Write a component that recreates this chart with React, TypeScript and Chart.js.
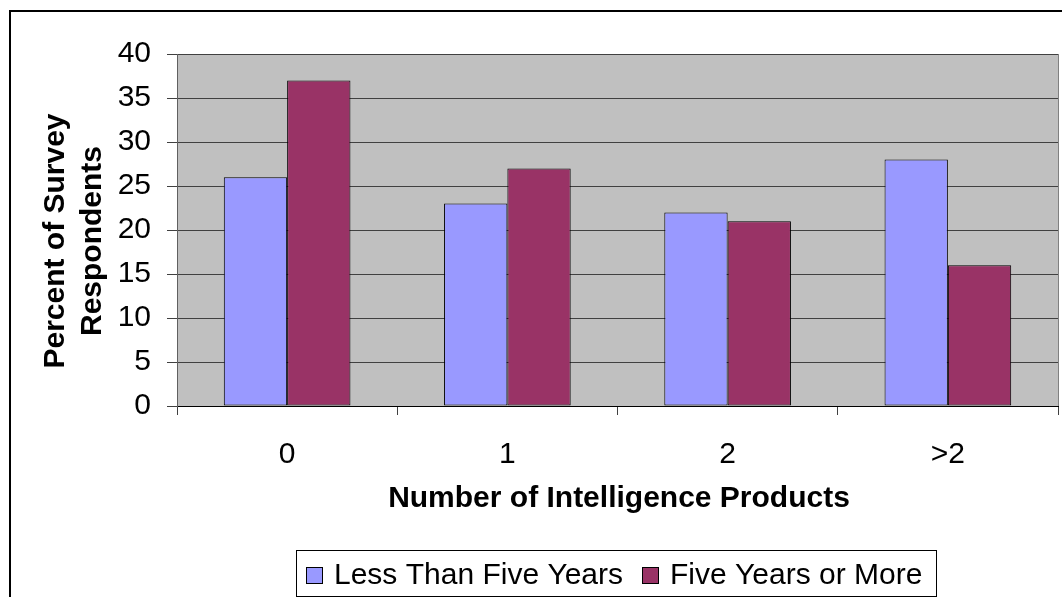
import React, { useEffect, useRef } from "react";
import { Chart, registerables } from "chart.js";

Chart.register(...registerables);

const categories = ["0", "1", "2", ">2"];
const lessThanFive = [26, 23, 22, 28];
const fiveOrMore = [37, 27, 21, 16];
const seriesNames = ["Less Than Five Years", "Five Years or More"];
const yTitleLines = ["Percent of Survey", "Respondents"];
const xTitle = "Number of Intelligence Products";

const FONT = "'Liberation Sans', Arial, sans-serif";
const BLUE = "#9999FF";
const RED = "#993366";

const decorPlugin = {
  id: "decor",
  beforeDraw(chart: any) {
    const { ctx, chartArea } = chart;
    ctx.save();
    ctx.fillStyle = "#ffffff";
    ctx.fillRect(0, 0, chart.width, chart.height);
    ctx.fillStyle = "#C0C0C0";
    ctx.fillRect(chartArea.left, chartArea.top, chartArea.right - chartArea.left, chartArea.bottom - chartArea.top);
    ctx.restore();
  },
  afterDraw(chart: any) {
    const { ctx, chartArea } = chart;
    ctx.save();
    // plot area right border
    ctx.strokeStyle = "#808080";
    ctx.lineWidth = 1;
    ctx.beginPath();
    ctx.moveTo(chartArea.right + 0.5, chartArea.top);
    ctx.lineTo(chartArea.right + 0.5, chartArea.bottom);
    ctx.stroke();

    // outer border (left + top)
    ctx.strokeStyle = "#000";
    ctx.lineWidth = 2;
    ctx.beginPath();
    ctx.moveTo(10, chart.height + 5);
    ctx.lineTo(10, 11);
    ctx.lineTo(chart.width + 5, 11);
    ctx.stroke();

    // y title
    ctx.fillStyle = "#000";
    ctx.font = `bold 30px ${FONT}`;
    ctx.textAlign = "center";
    ctx.textBaseline = "alphabetic";
    const cy = 241;
    const baselines = [64, 101];
    yTitleLines.forEach((t, i) => {
      ctx.save();
      ctx.translate(baselines[i], cy);
      ctx.rotate(-Math.PI / 2);
      ctx.fillText(t, 0, 0);
      ctx.restore();
    });

    // x title
    ctx.fillText(xTitle, 619, 507);

    // legend
    ctx.lineWidth = 1;
    ctx.strokeStyle = "#000";
    ctx.strokeRect(296.5, 550.5, 640, 46);
    const items = [
      { x: 306, color: BLUE, tx: 334, label: seriesNames[0] },
      { x: 642, color: RED, tx: 670, label: seriesNames[1] },
    ];
    ctx.font = `30px ${FONT}`;
    ctx.textAlign = "left";
    items.forEach((it) => {
      ctx.fillStyle = it.color;
      ctx.fillRect(it.x, 567, 17, 17);
      ctx.strokeRect(it.x + 0.5, 567.5, 16, 16);
      ctx.fillStyle = "#000";
      ctx.fillText(it.label, it.tx, 584);
    });
    ctx.restore();
  },
};

export default function App() {
  const ref = useRef<HTMLCanvasElement>(null);
  useEffect(() => {
    if (!ref.current) return;
    const chart = new Chart(ref.current, {
      type: "bar",
      data: {
        labels: categories,
        datasets: [
          {
            label: seriesNames[0],
            data: lessThanFive,
            backgroundColor: BLUE,
            borderColor: "#000",
            borderWidth: 1,
            borderSkipped: false,
          },
          {
            label: seriesNames[1],
            data: fiveOrMore,
            backgroundColor: RED,
            borderColor: "#000",
            borderWidth: 1,
            borderSkipped: false,
          },
        ],
      },
      options: {
        responsive: false,
        animation: false,
        devicePixelRatio: 1,
        datasets: { bar: { barPercentage: 1, categoryPercentage: 0.575 } },
        layout: { padding: { left: 0, top: 54, right: 4, bottom: 0 } },
        plugins: { legend: { display: false }, tooltip: { enabled: false } },
        scales: {
          x: {
            offset: true,
            grid: {
              offset: true,
              drawOnChartArea: false,
              drawTicks: true,
              tickLength: 9,
              color: "#404040",
            },
            border: { display: true, color: "#000", width: 1 },
            ticks: { color: "#000", font: { family: FONT, size: 30 }, padding: 22, maxRotation: 0 },
            afterFit: (s: any) => {
              s.height = 191;
            },
          },
          y: {
            min: 0,
            max: 40,
            ticks: { stepSize: 5, color: "#000", font: { family: FONT, size: 30 }, padding: 16 },
            grid: { color: "#404040", lineWidth: 1, tickLength: 10, tickColor: "#404040" },
            border: { display: true, color: "#606060", width: 1 },
            afterFit: (s: any) => {
              s.width = 177;
            },
          },
        },
      },
      plugins: [decorPlugin],
    } as any);
    return () => chart.destroy();
  }, []);
  return (
    <div style={{ position: "fixed", left: 0, top: 0, width: 1062, height: 597 }}>
      <canvas ref={ref} width={1062} height={597} style={{ display: "block" }} />
    </div>
  );
}
